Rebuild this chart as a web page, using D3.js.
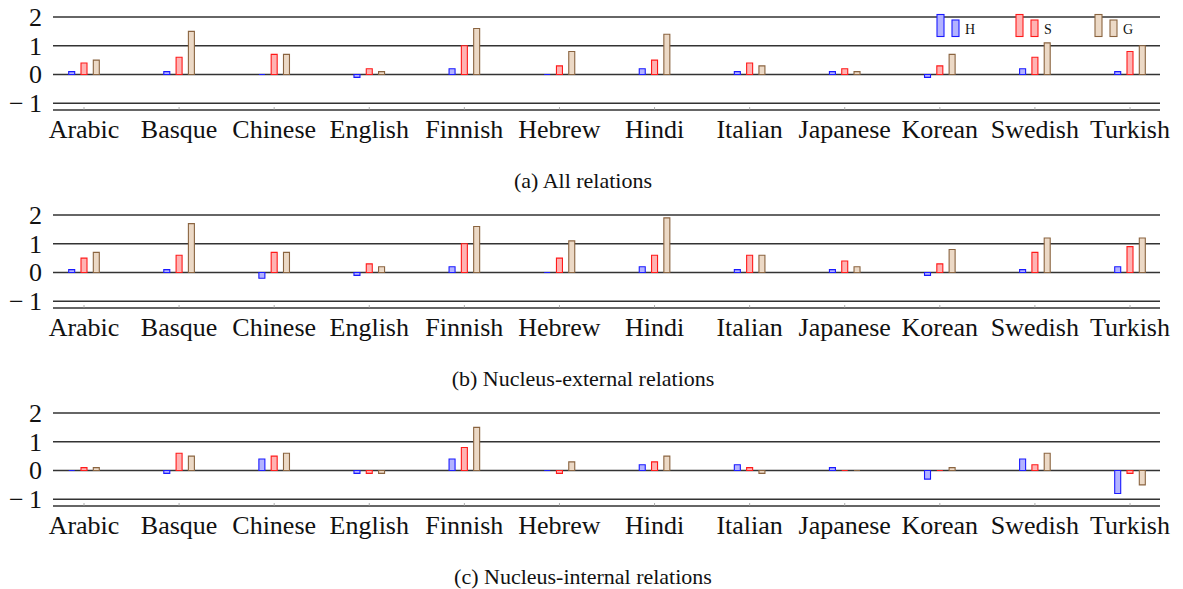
<!DOCTYPE html>
<html>
<head>
<meta charset="utf-8">
<script src="https://cdn.jsdelivr.net/npm/d3@7"></script>
<style>
  body { margin: 0; background: #fff; }
  svg text { font-family: "Liberation Serif", "DejaVu Serif", serif; fill: #111; }
</style>
</head>
<body>
<svg class="chart"></svg>
<script>
var PLOT_WIDTH = 1183;
var PLOT_HEIGHT = 589;

var LEFT = 53;
var RIGHT = 1160;
var FIRST_X = 84;
var LAST_X = 1130;

var BAR_W = 6;
var BAR_GAP = 12.3;

var languages = ["Arabic", "Basque", "Chinese", "English", "Finnish", "Hebrew",
                 "Hindi", "Italian", "Japanese", "Korean", "Swedish", "Turkish"];
var series = ["H", "S", "G"];
var yTicks = [2, 1, 0, -1];
var captions = ["(a) All relations", "(b) Nucleus-external relations", "(c) Nucleus-internal relations"];

// values per panel, one array per series
var allH = [0.1, 0.1, 0.0, -0.1, 0.2, 0.0, 0.2, 0.1, 0.1, -0.1, 0.2, 0.1];
var allS = [0.4, 0.6, 0.7, 0.2, 1.0, 0.3, 0.5, 0.4, 0.2, 0.3, 0.6, 0.8];
var allG = [0.5, 1.5, 0.7, 0.1, 1.6, 0.8, 1.4, 0.3, 0.1, 0.7, 1.1, 1.0];

var extH = [0.1, 0.1, -0.2, -0.1, 0.2, 0.0, 0.2, 0.1, 0.1, -0.1, 0.1, 0.2];
var extS = [0.5, 0.6, 0.7, 0.3, 1.0, 0.5, 0.6, 0.6, 0.4, 0.3, 0.7, 0.9];
var extG = [0.7, 1.7, 0.7, 0.2, 1.6, 1.1, 1.9, 0.6, 0.2, 0.8, 1.2, 1.2];

var intH = [0.0, -0.1, 0.4, -0.1, 0.4, 0.0, 0.2, 0.2, 0.1, -0.3, 0.4, -0.8];
var intS = [0.1, 0.6, 0.5, -0.1, 0.8, -0.1, 0.3, 0.1, 0.0, 0.0, 0.2, -0.1];
var intG = [0.1, 0.5, 0.6, -0.1, 1.5, 0.3, 0.5, -0.1, 0.0, 0.1, 0.6, -0.5];

var panels = [
    {values: [allH, allS, allG], top: 0},
    {values: [extH, extS, extG], top: 198},
    {values: [intH, intS, intG], top: 396}
];

var fills = {H: "#b3b3ff", S: "#ffb3b3", G: "#ecd9c6"};
var strokes = {H: "#1a1aff", S: "#ff1a1a", G: "#8a6440"};

var svg = d3.select(".chart")
    .attr("width", PLOT_WIDTH)
    .attr("height", PLOT_HEIGHT);

var x = d3.scalePoint()
    .domain(languages)
    .range([FIRST_X, LAST_X]);

var offset = d3.scalePoint()
    .domain(series)
    .range([-BAR_GAP, BAR_GAP]);

var y = d3.scaleLinear()
    .domain([-1.235, 2])
    .range([110, 17]);

function barPath(xc, v) {
    var x0 = xc - BAR_W / 2, x1 = xc + BAR_W / 2;
    return "M" + x0 + "," + y(0) + "H" + x1 + "V" + y(v) + "H" + x0 + "Z";
}

panels.forEach(function(p, pi) {
    var g = svg.append("g").attr("transform", "translate(0," + p.top + ")");

    // grid lines
    g.selectAll(".grid")
        .data(yTicks)
        .enter()
        .append("line")
        .attr("x1", LEFT)
        .attr("x2", RIGHT)
        .attr("y1", function(d) { return y(d); })
        .attr("y2", function(d) { return y(d); })
        .attr("stroke", "#333")
        .attr("stroke-width", 1.4);

    // bottom axis line + ticks
    g.append("line")
        .attr("x1", LEFT).attr("x2", RIGHT)
        .attr("y1", y.range()[0]).attr("y2", y.range()[0])
        .attr("stroke", "#333")
        .attr("stroke-width", 1.4);

    g.selectAll(".tick")
        .data(languages)
        .enter()
        .append("line")
        .attr("x1", function(d) { return x(d); })
        .attr("x2", function(d) { return x(d); })
        .attr("y1", y.range()[0] - 3)
        .attr("y2", y.range()[0])
        .attr("stroke", "#999")
        .attr("stroke-width", 0.8);

    var ylab = g.selectAll(".ylab")
        .data(yTicks)
        .enter()
        .append("text")
        .attr("x", 42)
        .attr("y", function(d) { return y(d) + 9; })
        .attr("text-anchor", "end")
        .attr("font-size", 26)
        .text(function(d) { return d < 0 ? "\u2212" + Math.abs(d) : d; });
    ylab.filter(function(d) { return d < 0; })
        .attr("textLength", 33)
        .attr("lengthAdjust", "spacing");

    series.forEach(function(s, si) {
        g.selectAll(".bar-" + s)
            .data(languages)
            .enter()
            .append("path")
            .attr("d", function(d, i) { return barPath(x(d) + offset(s), p.values[si][i]); })
            .attr("fill", fills[s])
            .attr("stroke", strokes[s])
            .attr("stroke-width", 1.1);
    });

    g.selectAll(".xlab")
        .data(languages)
        .enter()
        .append("text")
        .attr("x", function(d) { return x(d); })
        .attr("y", 138)
        .attr("text-anchor", "middle")
        .attr("font-size", 26)
        .text(function(d) { return d; });

    g.append("text")
        .attr("x", 583)
        .attr("y", 188)
        .attr("text-anchor", "middle")
        .attr("font-size", 22)
        .text(captions[pi]);
});

// legend in the first panel
var legend = svg.append("g");
var legX = d3.scalePoint().domain(series).range([937, 1095]);

series.forEach(function(s) {
    var lx = legX(s);
    legend.append("rect")
        .attr("x", lx).attr("y", 14.5)
        .attr("width", 7).attr("height", 22)
        .attr("fill", fills[s]).attr("stroke", strokes[s]).attr("stroke-width", 1.1);
    legend.append("rect")
        .attr("x", lx + 15).attr("y", 20)
        .attr("width", 7).attr("height", 16.5)
        .attr("fill", fills[s]).attr("stroke", strokes[s]).attr("stroke-width", 1.1);
    legend.append("text")
        .attr("x", lx + 28).attr("y", 34)
        .attr("font-size", 14)
        .text(s);
});
</script>
</body>
</html>
